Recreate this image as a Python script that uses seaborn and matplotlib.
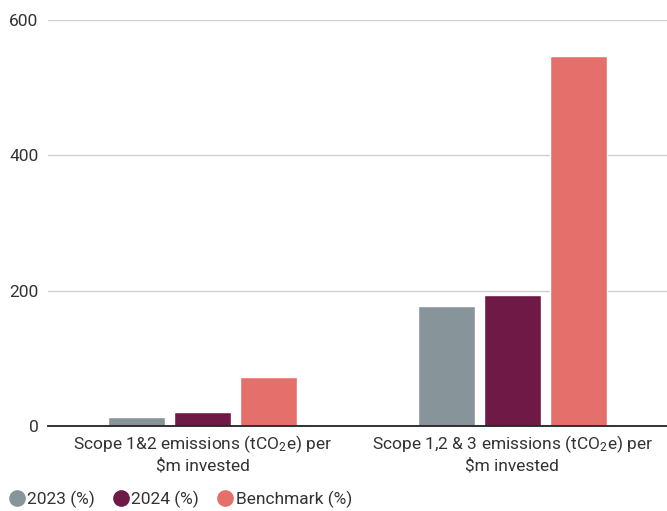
import matplotlib
matplotlib.use("Agg")
import matplotlib.pyplot as plt
import seaborn as sns
import pandas as pd
from matplotlib.lines import Line2D

categories = ["Scope 1&2 emissions (tCO$_2$e) per\n$m invested",
              "Scope 1,2 & 3 emissions (tCO$_2$e) per\n$m invested"]
series = ["2023 (%)", "2024 (%)", "Benchmark (%)"]
values_2023 = [13, 177]
values_2024 = [21, 194]
values_bench = [72, 547]
yticks = [0, 200, 400, 600]
colors = ["#87959b", "#6e1946", "#e5706b"]

sns.set_theme(style="white")
plt.rcParams['font.family'] = ['Roboto', 'DejaVu Sans']
plt.rcParams['mathtext.fontset'] = 'custom'
plt.rcParams['mathtext.rm'] = 'Roboto'
plt.rcParams['mathtext.default'] = 'regular'

cat_labels = [c.replace("$m", r"\$m") for c in categories]
rows = []
for s, vals in zip(series, [values_2023, values_2024, values_bench]):
    for c, v in zip(cat_labels, vals):
        rows.append({"category": c, "series": s, "value": v})
df = pd.DataFrame(rows)

fig = plt.figure(figsize=(6.67, 5.11), dpi=100)
ax = fig.add_axes([0.072, 0.166, 0.928, 0.795])
sns.barplot(data=df, x="category", y="value", hue="series", palette=colors,
            width=0.64, gap=0.14, ax=ax, legend=False, saturation=1)
ax.set_xlim(-0.5, 1.5)
ax.set_ylim(0, 600)
ax.set_yticks(yticks)
ax.yaxis.grid(True, color="#d0d0d0", linewidth=1)
ax.set_axisbelow(True)
for sp in ["top", "right", "left"]:
    ax.spines[sp].set_visible(False)
ax.spines["bottom"].set_color("#222222")
ax.spines["bottom"].set_linewidth(1.3)
ax.set_xlabel("")
ax.set_ylabel("")
ax.tick_params(axis="y", length=0, pad=7, labelsize=12.5, labelcolor="#333333")
ax.tick_params(axis="x", length=0, pad=5, labelsize=12.5, labelcolor="#333333")
for t in ax.get_xticklabels():
    t.set_linespacing(1.25)

handles = [Line2D([0], [0], marker="o", linestyle="", markersize=11,
                  markerfacecolor=c, markeredgecolor=c) for c in colors]
fig.legend(handles, series, loc="lower left", bbox_to_anchor=(-0.014, -0.024),
           ncol=3, frameon=False, fontsize=12.5, handletextpad=0.0,
           columnspacing=0.9, labelcolor="#333333", handlelength=1.2)

fig.savefig("out.png", dpi=100)
